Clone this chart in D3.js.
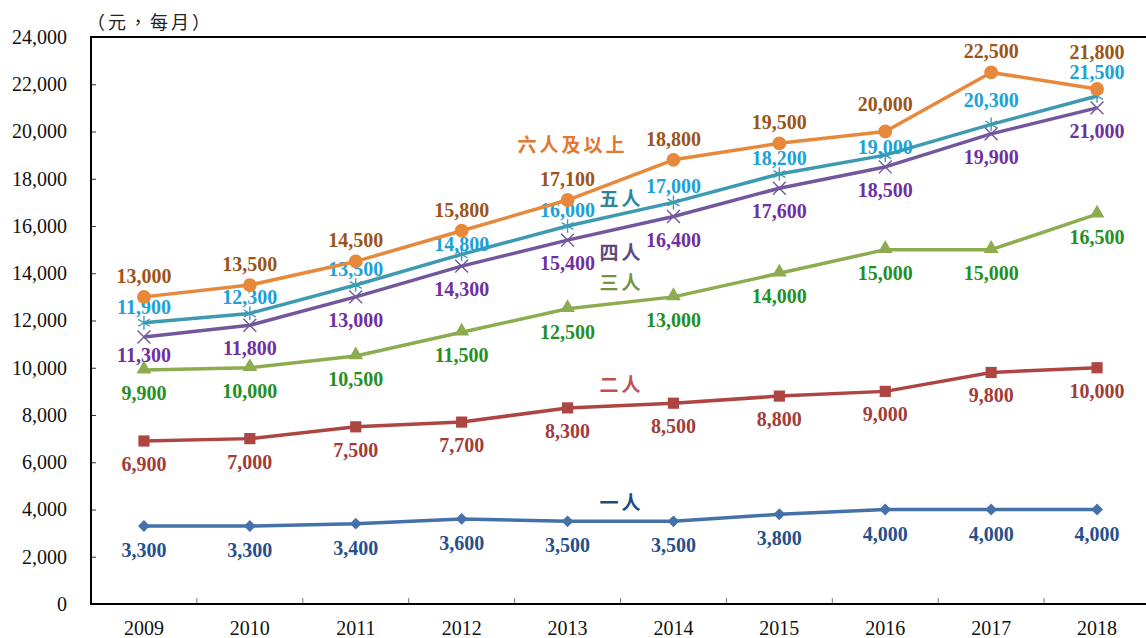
<!DOCTYPE html>
<html>
<head>
<meta charset="utf-8">
<script src="https://cdn.jsdelivr.net/npm/d3@7"></script>
<style>
  body { margin: 0; background: #fff; }
  svg { display: block; }
  .num { font-family: "Liberation Serif", "Times New Roman", serif; }
  .cjk { font-family: "Noto Sans CJK TC", "Noto Sans CJK SC", sans-serif; }
</style>
</head>
<body>
<svg id="chart" width="1146" height="638"></svg>
<script>
var years = ["2009", "2010", "2011", "2012", "2013", "2014", "2015", "2016", "2017", "2018"];
var one = [3300, 3300, 3400, 3600, 3500, 3500, 3800, 4000, 4000, 4000];
var two = [6900, 7000, 7500, 7700, 8300, 8500, 8800, 9000, 9800, 10000];
var three = [9900, 10000, 10500, 11500, 12500, 13000, 14000, 15000, 15000, 16500];
var four = [11300, 11800, 13000, 14300, 15400, 16400, 17600, 18500, 19900, 21000];
var five = [11900, 12300, 13500, 14800, 16000, 17000, 18200, 19000, 20300, 21500];
var sixPlus = [13000, 13500, 14500, 15800, 17100, 18800, 19500, 20000, 22500, 21800];
var seriesNames = ["一人", "二人", "三人", "四人", "五人", "六人及以上"];
var yTicks = [0, 2000, 4000, 6000, 8000, 10000, 12000, 14000, 16000, 18000, 20000, 22000, 24000];
var unitLabel = "（元，每月）";

// drawing styles, one per series (same order as seriesNames)
var styles = [
  { values: one, line: "#4571a9", label: "#274f8c", nameColor: "#1f497d", marker: "diamond", dy: 24, nameY: 503 },
  { values: two, line: "#ad4543", label: "#a03d39", nameColor: "#c0504d", marker: "square", dy: 23, nameY: 385 },
  { values: three, line: "#8dab4f", label: "#248f24", nameColor: "#76923c", marker: "triangle", dy: 23, nameY: 283 },
  { values: four, line: "#73579c", label: "#7030a0", nameColor: "#5f497a", marker: "x", dy: 23, nameY: 253 },
  { values: five, line: "#3d9ab0", label: "#1ca2d8", nameColor: "#31849b", marker: "asterisk", dy: -16, nameY: 199 },
  { values: sixPlus, line: "#e8883b", label: "#9c5419", nameColor: "#e07a30", marker: "circle", dy: -21, nameY: 145 }
];
// a few labels sit off their usual spot
var labelShift = { "3-2009": 18, "4-2012": -10, "4-2016": -8, "4-2017": -24, "4-2018": -24, "5-2016": -28, "5-2018": -37 };

var svg = d3.select("#chart");
var mLeft = 91, mTop = 37, mRight = 1150, mBottom = 604;

var x = d3.scaleBand().domain(years).range([mLeft, mRight]).padding(0);
var y = d3.scaleLinear().domain([0, 24000]).range([mBottom, mTop]);
var cx = function(d, i) { return x(years[i]) + x.bandwidth() / 2; };

// y axis ticks and labels
var yAxis = svg.append("g")
    .attr("transform", "translate(" + mLeft + ",0)")
    .call(d3.axisLeft(y).tickValues(yTicks).tickSize(-5).tickPadding(24).tickFormat(d3.format(",")));
yAxis.select(".domain").remove();
yAxis.selectAll(".tick line").attr("stroke", "#333");
yAxis.selectAll("text")
    .attr("class", "num")
    .style("font-size", "20px")
    .attr("fill", "#111");

// x axis labels
var xAxis = svg.append("g")
    .attr("transform", "translate(0," + mBottom + ")")
    .call(d3.axisBottom(x).tickSize(0).tickPadding(17));
xAxis.select(".domain").remove();
xAxis.selectAll("text")
    .attr("class", "num")
    .style("font-size", "20px")
    .attr("fill", "#111");

// x ticks between years
svg.append("g").selectAll("line")
    .data(years.slice(1))
    .join("line")
    .attr("x1", function(d) { return x(d); })
    .attr("x2", function(d) { return x(d); })
    .attr("y1", mBottom)
    .attr("y2", mBottom - 6)
    .attr("stroke", "#777")
    .attr("stroke-width", 1);

// frame
svg.append("path")
    .attr("d", "M" + mRight + "," + mTop + "H" + mLeft + "V" + mBottom + "H" + mRight)
    .attr("fill", "none")
    .attr("stroke", "#000")
    .attr("stroke-width", 2);

svg.append("text")
    .attr("class", "cjk")
    .attr("x", mLeft - 4)
    .attr("y", 29)
    .style("font-size", "18px")
    .style("letter-spacing", "3px")
    .attr("fill", "#222")
    .text(unitLabel);

var line = d3.line()
    .x(cx)
    .y(function(d) { return y(d); });

function markerPath(kind) {
  if (kind === "diamond") return d3.symbol(d3.symbolSquare, 70)();
  if (kind === "square") return d3.symbol(d3.symbolSquare, 125)();
  if (kind === "triangle") return d3.symbol(d3.symbolTriangle, 95)();
  if (kind === "x") return d3.symbol(d3.symbolX, 110)();
  if (kind === "asterisk") return d3.symbol(d3.symbolAsterisk, 130)();
  return d3.symbol(d3.symbolCircle, 150)();
}

styles.forEach(function(s, si) {
  var g = svg.append("g");

  g.append("path")
    .datum(s.values)
    .attr("d", line)
    .attr("fill", "none")
    .attr("stroke", s.line)
    .attr("stroke-width", 3.5)
    .attr("stroke-linejoin", "round");

  var stroked = s.marker === "x" || s.marker === "asterisk";
  g.selectAll(".mark")
    .data(s.values)
    .join("path")
    .attr("class", "mark")
    .attr("d", markerPath(s.marker))
    .attr("transform", function(d, i) {
      var t = "translate(" + cx(d, i) + "," + y(d) + ")";
      if (s.marker === "diamond") t += " rotate(45)";
      if (s.marker === "triangle") t += " translate(0,-1)";
      return t;
    })
    .attr("fill", stroked ? "none" : s.line)
    .attr("stroke", stroked ? s.line : "none")
    .attr("stroke-width", stroked ? 1.4 : 0);

  g.selectAll(".val")
    .data(s.values)
    .join("text")
    .attr("class", "val num")
    .attr("x", cx)
    .attr("y", function(d, i) {
      var k = si + "-" + years[i];
      var off = labelShift[k] !== undefined ? labelShift[k] : s.dy;
      return y(d) + off;
    })
    .attr("dy", "0.35em")
    .attr("text-anchor", "middle")
    .style("font-size", "20px")
    .style("font-weight", "bold")
    .attr("fill", s.label)
    .text(d3.format(","));
});

// series names, placed at the 2013/2014 boundary
var nameX = x("2014");
styles.forEach(function(s, si) {
  var isLast = si === styles.length - 1;
  svg.append("text")
    .attr("class", "cjk")
    .attr("x", isLast ? nameX + 7 : nameX + 1)
    .attr("y", s.nameY)
    .attr("dy", "0.35em")
    .attr("text-anchor", isLast ? "end" : "middle")
    .style("font-size", "19px")
    .style("font-weight", "bold")
    .style("letter-spacing", "3px")
    .attr("fill", s.nameColor)
    .text(seriesNames[si]);
});
</script>
</body>
</html>
